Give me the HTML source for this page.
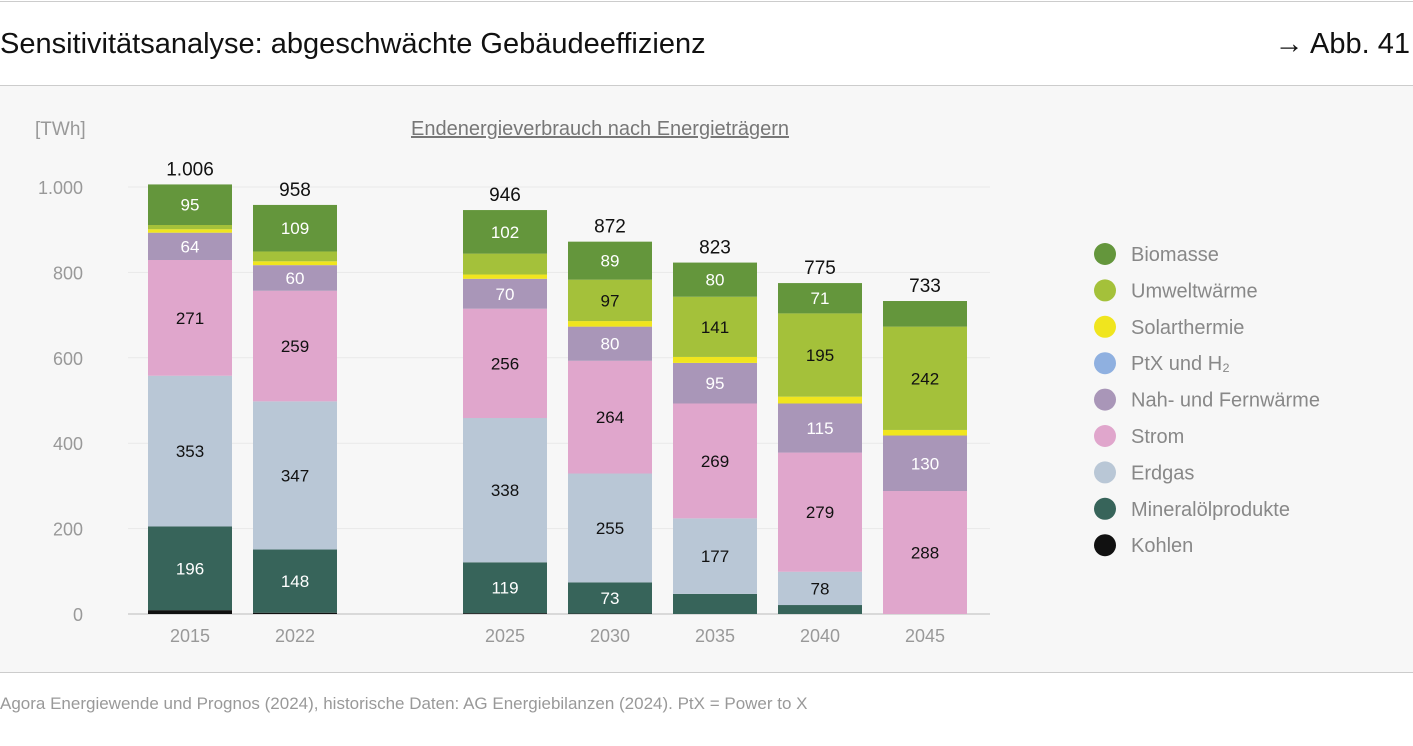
<!DOCTYPE html>
<html><head><meta charset="utf-8"><style>
body{margin:0;width:1413px;height:741px;background:#fff;font-family:"Liberation Sans",sans-serif;overflow:hidden}
</style></head><body>
<svg width="1413" height="741" xmlns="http://www.w3.org/2000/svg" font-family="Liberation Sans, sans-serif">
<rect x="0" y="86" width="1413" height="586" fill="#f7f7f7"/>
<line x1="0" y1="1.5" x2="1413" y2="1.5" stroke="#ccc"/>
<line x1="0" y1="85.5" x2="1413" y2="85.5" stroke="#ccc"/>
<line x1="0" y1="672.5" x2="1413" y2="672.5" stroke="#ccc"/>
<text x="0" y="53" font-size="29" fill="#111">Sensitivitätsanalyse: abgeschwächte Gebäudeeffizienz</text>
<text x="1410" y="53" font-size="29" fill="#111" text-anchor="end">→ Abb. 41</text>
<text x="35" y="135" font-size="19" fill="#999">[TWh]</text>
<text x="600" y="135" font-size="20" fill="#777" text-anchor="middle" text-decoration="underline">Endenergieverbrauch nach Energieträgern</text>
<text x="0" y="709" font-size="17" fill="#999">Agora Energiewende und Prognos (2024), historische Daten: AG Energiebilanzen (2024). PtX = Power to X</text>
<g id="grid"></g><g id="bars"></g><g id="legend"></g>
</svg>
<script>
const years=["2015","2022","2025","2030","2035","2040","2045"];
const series=["Kohlen","Mineralölprodukte","Erdgas","Strom","Nah- und Fernwärme","PtX und H₂","Solarthermie","Umweltwärme","Biomasse"];
const kohlen=[9,3,2,1,0,0,0];
const mineral=[196,148,119,73,47,21,0];
const erdgas=[353,347,338,255,177,78,0];
const strom=[271,259,256,264,269,279,288];
const nah=[64,60,70,80,95,115,130];
const ptx=[0,0,0,0,0,0,0];
const solar=[8,9,10,13,14,16,13];
const umwelt=[10,23,49,97,141,195,242];
const biomasse=[95,109,102,89,80,71,60];
const totals=["1.006","958","946","872","823","775","733"];
const yTicks=[0,200,400,600,800,1000];
const yTickLabels=["0","200","400","600","800","1.000"];
const hiddenLabels=["Biomasse-2045"];
const values=[kohlen,mineral,erdgas,strom,nah,ptx,solar,umwelt,biomasse];
const colors=["#111111","#37645a","#b9c7d6","#e0a6cc","#a996b8","#8fb0e0","#f0e51e","#a4c13a","#64963c"];
const textCol=["#fff","#fff","#111","#111","#fff","#111","#111","#111","#fff"];
const NS="http://www.w3.org/2000/svg";
const y=v=>614-v*0.427;
const xc=[190,295,505,610,715,820,925];
const x=i=>xc[i];
const bw=84;
function mk(t,a,p){const e=document.createElementNS(NS,t);for(const k in a)e.setAttribute(k,a[k]);p.appendChild(e);return e;}
const grid=document.getElementById('grid');
yTicks.forEach((t,i)=>{
 const l=mk('line',{x1:128,x2:990,y1:y(t),y2:y(t),stroke:i==0?'#bbb':'#e9e9e9'},grid);
 
 
 const tx=mk('text',{x:83,y:y(t)+7,'font-size':18,fill:'#999','text-anchor':'end'},grid);
 tx.textContent=yTickLabels[i];
 
 
});
const bars=document.getElementById('bars');
years.forEach((yr,i)=>{
 let acc=0;
 values.forEach((arr,s)=>{
  const v=arr[i];if(v<=0)return;
  const r=mk('rect',{x:x(i)-bw/2,y:y(acc+v),width:bw,height:v*0.427,fill:colors[s]},bars);
  
  
  if(v>=55&&!hiddenLabels.includes(series[s]+'-'+yr)){
   const t=mk('text',{x:x(i),y:y(acc+v/2)+6,'font-size':17,fill:textCol[s],'text-anchor':'middle'},bars);
   t.textContent=v;
   
   
  }
  acc+=v;
 });
 const tt=mk('text',{x:x(i),y:y(acc)-9,'font-size':19,fill:'#111','text-anchor':'middle'},bars);
 tt.textContent=totals[i];
 
 
 const xl=mk('text',{x:x(i),y:642,'font-size':18,fill:'#999','text-anchor':'middle'},bars);
 xl.textContent=yr;
 
 
});
const lg=document.getElementById('legend');
for(let k=8;k>=0;k--){
 const row=8-k;const cy=254+row*36.4;
 const c=mk('circle',{cx:1105,cy:cy,r:11,fill:colors[k]},lg);
 
 
 const t=mk('text',{x:1131,y:cy+7,'font-size':20,fill:'#888'},lg);
 t.textContent=series[k];
 
 
}
</script>
</body></html>
